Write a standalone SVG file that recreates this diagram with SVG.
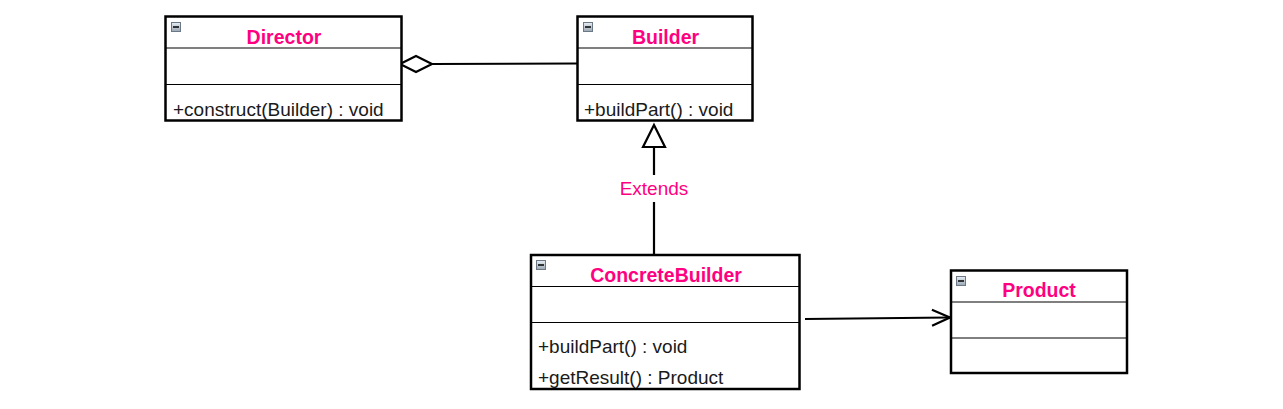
<svg xmlns="http://www.w3.org/2000/svg" width="1283" height="409" viewBox="0 0 1283 409">
<style>
.box{fill:#fff;stroke:#000;stroke-width:2.5}
.div{stroke:#000;stroke-width:1.2}
.title{font-family:"Liberation Sans",Arial,sans-serif;font-size:19.5px;font-weight:bold;fill:#ff0080;text-anchor:middle}
.op{font-family:"Liberation Sans",Arial,sans-serif;font-size:19px;fill:#1a1a1a}
.lbl{font-family:"Liberation Sans",Arial,sans-serif;font-size:19px;fill:#ff0080;text-anchor:middle}
.edge{fill:none;stroke:#000;stroke-width:2.2}
</style>
<defs>
<linearGradient id="ig" x1="0" y1="0" x2="0" y2="1"><stop offset="0" stop-color="#e8eef4"/><stop offset="1" stop-color="#9aa6b2"/></linearGradient>
<g id="icon"><rect x="0.5" y="0.5" width="9" height="9" fill="url(#ig)" stroke="#6b7885" stroke-width="1"/><line x1="2" y1="5" x2="8" y2="5" stroke="#000" stroke-width="1.5"/></g>
<marker id="open" markerWidth="24" markerHeight="20" refX="21" refY="10" orient="auto" markerUnits="userSpaceOnUse"><path d="M3,2 L21,10 L3,18" fill="none" stroke="#000" stroke-width="2.2"/></marker>
</defs>
<rect width="1283" height="409" fill="#fff"/>
<g id="connectors">
<polyline class="edge" points="432,64 577,63.5"/>
<polygon points="400,64 416,56 432,64 416,72" fill="#fff" stroke="#000" stroke-width="2.2"/>
<line class="edge" x1="654" y1="147" x2="654" y2="175"/>
<line class="edge" x1="654" y1="202" x2="654" y2="254"/>
<polygon points="654,125 665,147 643,147" fill="#fff" stroke="#000" stroke-width="2.2"/>
<text class="lbl" x="654" y="195">Extends</text>
<line class="edge" x1="805" y1="319" x2="950" y2="317.5" marker-end="url(#open)"/>
</g>
<g id="Director">
<rect class="box" x="165.5" y="16.5" width="236" height="104"/>
<line class="div" x1="166" y1="48" x2="401" y2="48"/>
<line class="div" x1="166" y1="84.5" x2="401" y2="84.5"/>
<use href="#icon" x="171" y="22"/>
<text class="title" x="284" y="44">Director</text>
<text class="op" x="173" y="116">+construct(Builder) : void</text>
</g>
<g id="Builder">
<rect class="box" x="577.5" y="16.5" width="175" height="104"/>
<line class="div" x1="578" y1="48" x2="752" y2="48"/>
<line class="div" x1="578" y1="84.5" x2="752" y2="84.5"/>
<use href="#icon" x="583" y="22"/>
<text class="title" x="665.5" y="44">Builder</text>
<text class="op" x="584" y="116">+buildPart() : void</text>
</g>
<g id="ConcreteBuilder">
<rect class="box" x="531" y="255" width="268.5" height="134"/>
<line class="div" x1="532" y1="286.5" x2="799" y2="286.5"/>
<line class="div" x1="532" y1="322.5" x2="799" y2="322.5"/>
<use href="#icon" x="536" y="260"/>
<text class="title" x="666" y="282">ConcreteBuilder</text>
<text class="op" x="538" y="353">+buildPart() : void</text>
<text class="op" x="538" y="384">+getResult() : Product</text>
</g>
<g id="Product">
<rect class="box" x="951" y="270.5" width="176" height="102.5"/>
<line class="div" x1="952" y1="302" x2="1126" y2="302"/>
<line class="div" x1="952" y1="338" x2="1126" y2="338"/>
<use href="#icon" x="956" y="276"/>
<text class="title" x="1039" y="297">Product</text>
</g>
</svg>
